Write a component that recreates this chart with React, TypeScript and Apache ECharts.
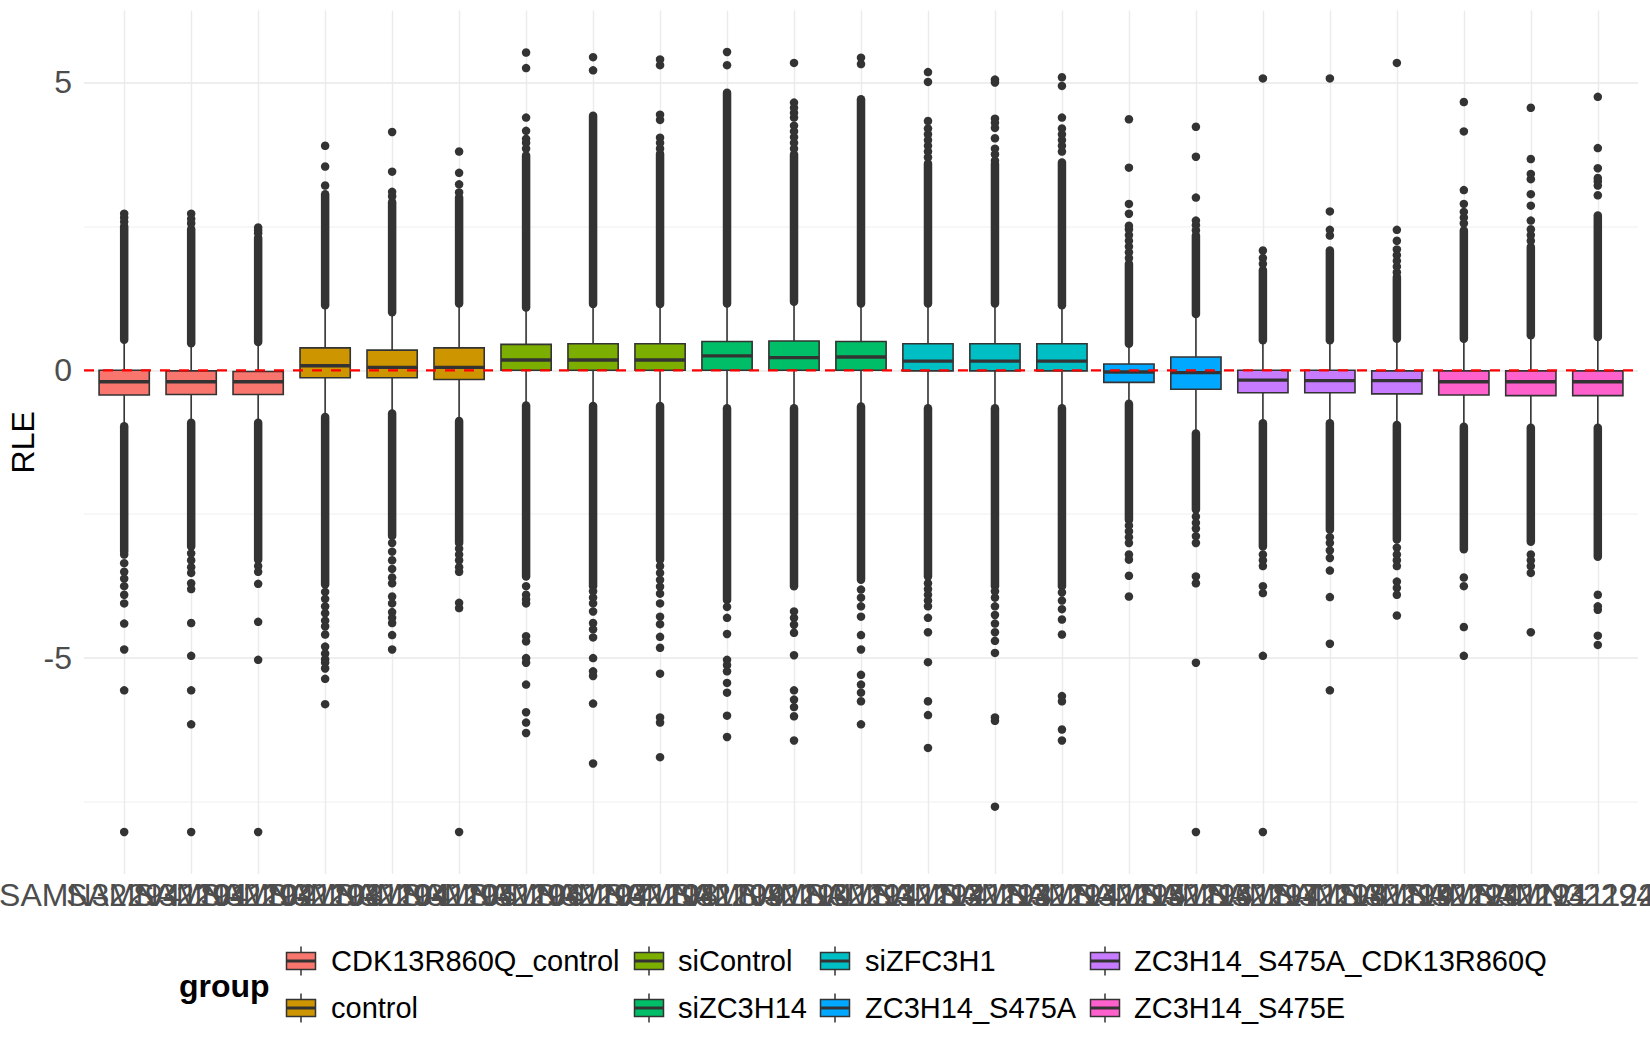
import React, { useEffect, useRef } from "react";
import * as echarts from "echarts";

// ---------- data ----------
const samples = [
  "SAMN322941101", "SAMN322941102", "SAMN322941103", "SAMN322941104", "SAMN322941105",
  "SAMN322941106", "SAMN322941107", "SAMN322941108", "SAMN322941109", "SAMN322941110",
  "SAMN322941111", "SAMN322941112", "SAMN322941113", "SAMN322941114", "SAMN322941115",
  "SAMN322941116", "SAMN322941117", "SAMN322941118", "SAMN322941119", "SAMN322941120",
  "SAMN322941121", "SAMN322941122", "SAMN322941123",
];

const groups = [
  "CDK13R860Q_control", "control", "siControl", "siZC3H14",
  "siZFC3H1", "ZC3H14_S475A", "ZC3H14_S475A_CDK13R860Q", "ZC3H14_S475E",
];

const groupColors = [
  "#F8766D", "#CD9600", "#7CAE00", "#00BE67", "#00BFC4", "#00A9FF", "#C77CFF", "#FF61CC",
];

const sampleGroup = [0, 0, 0, 1, 1, 1, 2, 2, 2, 3, 3, 3, 4, 4, 4, 5, 5, 6, 6, 6, 7, 7, 7];

const lowerWhisker = [-0.97, -0.91, -0.91, -0.81, -0.75, -0.88, -0.61, -0.62, -0.62, -0.66, -0.66, -0.63, -0.66, -0.66, -0.66, -0.58, -1.10, -0.92, -0.92, -0.95, -0.98, -1.0, -1.0];
const q1 = [-0.43, -0.42, -0.42, -0.13, -0.13, -0.16, 0.0, 0.0, 0.0, 0.0, 0.0, 0.0, -0.01, -0.01, -0.01, -0.21, -0.33, -0.39, -0.39, -0.41, -0.43, -0.44, -0.44];
const median = [-0.2, -0.2, -0.2, 0.08, 0.05, 0.05, 0.18, 0.18, 0.18, 0.25, 0.22, 0.23, 0.16, 0.16, 0.16, -0.03, -0.04, -0.17, -0.18, -0.18, -0.2, -0.2, -0.2];
const q3 = [0.0, -0.01, -0.02, 0.39, 0.35, 0.39, 0.45, 0.46, 0.46, 0.5, 0.51, 0.5, 0.46, 0.46, 0.46, 0.11, 0.23, 0.0, 0.0, -0.01, -0.01, -0.01, -0.01];
const upperWhisker = [0.53, 0.47, 0.49, 1.13, 1.01, 1.16, 1.09, 1.15, 1.15, 1.16, 1.19, 1.16, 1.16, 1.16, 1.13, 0.46, 0.98, 0.52, 0.52, 0.55, 0.55, 0.61, 0.58];

// extent of the densely packed (overlapping) outliers beyond each whisker
const upperDenseTop = [2.5, 2.45, 2.3, 3.06, 2.92, 3.0, 3.73, 4.42, 3.76, 4.82, 3.75, 4.71, 3.59, 3.59, 3.61, 1.85, 2.34, 1.74, 2.08, 1.62, 2.43, 2.14, 2.69];
const lowerDenseBottom = [-3.15, -3.06, -3.29, -3.72, -2.88, -3.0, -3.58, -3.75, -3.29, -3.99, -3.75, -3.64, -3.58, -3.75, -3.75, -2.6, -2.42, -3.06, -2.77, -2.94, -3.11, -2.98, -3.24];

// individually visible outliers
const upperOutliers = [
  [2.58, 2.65, 2.72],
  [2.55, 2.63, 2.72],
  [2.38, 2.43, 2.48],
  [3.21, 3.54, 3.9],
  [3.02, 3.1, 3.45, 4.14],
  [3.09, 3.23, 3.43, 3.8],
  [3.85, 3.95, 4.02, 4.16, 4.39, 5.25, 5.52],
  [5.21, 5.44],
  [3.85, 3.95, 4.04, 4.35, 4.44, 5.3, 5.4],
  [5.3, 5.53],
  [3.85, 3.95, 4.05, 4.15, 4.25, 4.39, 4.47, 4.56, 4.65, 5.34],
  [5.32, 5.43],
  [3.7, 3.8, 3.9, 4.0, 4.1, 4.2, 4.33, 5.01, 5.18],
  [3.64, 3.75, 3.85, 4.03, 4.21, 4.3, 4.37, 5.0, 5.05],
  [3.8, 3.9, 4.0, 4.1, 4.2, 4.39, 4.94, 5.09],
  [1.95, 2.05, 2.15, 2.25, 2.35, 2.45, 2.51, 2.72, 2.89, 3.52, 4.36],
  [2.43, 2.52, 2.6, 3.0, 3.71, 4.23],
  [1.85, 1.95, 2.08, 5.07],
  [2.34, 2.44, 2.76, 5.07],
  [1.7, 1.8, 1.9, 2.0, 2.1, 2.25, 2.44, 5.34],
  [2.55, 2.65, 2.75, 2.89, 3.13, 4.15, 4.66],
  [2.25, 2.35, 2.45, 2.6, 2.86, 3.06, 3.32, 3.41, 3.67, 4.56],
  [3.04, 3.21, 3.28, 3.34, 3.51, 3.86, 4.75],
];

const lowerOutliers = [
  [-3.2, -3.35, -3.5, -3.62, -3.75, -3.9, -4.05, -4.4, -4.85, -5.56, -8.02],
  [-3.18, -3.3, -3.42, -3.52, -3.7, -3.8, -4.39, -4.96, -5.56, -6.15, -8.02],
  [-3.4, -3.5, -3.71, -4.37, -5.03, -8.02],
  [-3.85, -3.97, -4.1, -4.22, -4.35, -4.45, -4.59, -4.8, -4.92, -5.02, -5.08, -5.18, -5.36, -5.8],
  [-3.0, -3.15, -3.3, -3.45, -3.6, -3.7, -3.93, -4.05, -4.2, -4.3, -4.39, -4.6, -4.85],
  [-3.1, -3.2, -3.3, -3.42, -3.5, -4.04, -4.13, -8.02],
  [-3.75, -3.9, -3.98, -4.05, -4.62, -4.71, -5.0, -5.08, -5.46, -5.94, -6.12, -6.3],
  [-3.84, -3.95, -4.05, -4.19, -4.39, -4.5, -4.64, -5.0, -5.23, -5.31, -5.79, -6.83],
  [-3.4, -3.52, -3.64, -3.76, -3.88, -4.05, -4.28, -4.41, -4.63, -4.82, -5.27, -6.03, -6.12, -6.72],
  [-4.11, -4.3, -4.58, -5.03, -5.12, -5.23, -5.43, -5.6, -6.0, -6.37],
  [-4.19, -4.3, -4.42, -4.56, -4.95, -5.56, -5.72, -5.85, -6.01, -6.43],
  [-3.81, -3.95, -4.1, -4.28, -4.6, -4.85, -5.29, -5.46, -5.6, -5.75, -6.15],
  [-3.7, -3.8, -3.9, -4.0, -4.1, -4.3, -4.55, -5.07, -5.75, -5.99, -6.56],
  [-3.84, -3.95, -4.1, -4.25, -4.4, -4.55, -4.7, -4.91, -6.03, -6.09, -7.58],
  [-3.86, -4.0, -4.15, -4.33, -4.59, -5.66, -5.75, -6.24, -6.43],
  [-2.7, -2.8, -2.9, -3.0, -3.2, -3.29, -3.57, -3.93],
  [-2.54, -2.65, -2.75, -2.88, -3.0, -3.58, -3.7, -5.08, -8.02],
  [-3.2, -3.3, -3.4, -3.75, -3.87, -4.96, -8.02],
  [-2.9, -3.0, -3.13, -3.26, -3.48, -3.94, -4.75, -5.56],
  [-3.08, -3.2, -3.3, -3.4, -3.67, -3.78, -3.9, -4.26],
  [-3.6, -3.75, -4.46, -4.96],
  [-3.2, -3.3, -3.4, -3.52, -4.55],
  [-3.9, -4.1, -4.16, -4.61, -4.77],
];

const yMajorTicks = [-5, 0, 5];
const yMinorTicks = [-7.5, -2.5, 2.5];
const yRange = [-8.75, 6.25];
const referenceLine = [0];

// ---------- style ----------
const FONT = "'Liberation Sans', Arial, Helvetica, sans-serif";
const EDGE = "#333333";
const POINT = 8.5;
const BOX_WIDTH = 0.75;
const X_PAD = 0.6;

function buildOption() {
  const xValues = samples.map((_, i) => i + 1);
  const xMin = 1 - X_PAD;
  const xMax = samples.length + X_PAD;

  const yGrid = [...yMajorTicks, ...yMinorTicks].sort((a, b) => a - b);
  const yGridColors = yGrid.map((v) => (yMajorTicks.includes(v) ? "#E9E9E9" : "#F4F4F4"));

  const boxData = samples.map((_, i) => [i + 1, lowerWhisker[i], q1[i], median[i], q3[i], upperWhisker[i]]);

  const denseData: number[][] = [];
  samples.forEach((_, i) => {
    denseData.push([i + 1, upperWhisker[i], upperDenseTop[i]]);
    denseData.push([i + 1, lowerWhisker[i], lowerDenseBottom[i]]);
  });

  const pointData: number[][] = [];
  samples.forEach((_, i) => {
    upperOutliers[i].forEach((v) => pointData.push([i + 1, v]));
    lowerOutliers[i].forEach((v) => pointData.push([i + 1, v]));
  });

  // legend (ggplot style, filled by column, 2 rows)
  const keyCenters = [301, 649, 835, 1105];
  const textLefts = [331, 678, 865, 1134];
  const rowCenters = [961, 1008];
  const legendEls: any[] = [
    {
      type: "text",
      style: {
        text: "group", x: 179, y: 986, fill: "#000000",
        fontSize: 32, fontWeight: "bold", fontFamily: FONT,
        textAlign: "left", textVerticalAlign: "middle", verticalAlign: "middle",
      },
    },
  ];
  groups.forEach((g, i) => {
    const col = Math.floor(i / 2);
    const row = i % 2;
    const cx = keyCenters[col];
    const cy = rowCenters[row];
    const bw = 29;
    const bh = 17;
    legendEls.push(
      { type: "line", shape: { x1: cx, y1: cy - bh / 2 - 6, x2: cx, y2: cy - bh / 2 }, style: { stroke: EDGE, lineWidth: 1.5 } },
      { type: "line", shape: { x1: cx, y1: cy + bh / 2, x2: cx, y2: cy + bh / 2 + 6 }, style: { stroke: EDGE, lineWidth: 1.5 } },
      { type: "rect", shape: { x: cx - bw / 2, y: cy - bh / 2, width: bw, height: bh }, style: { fill: groupColors[i], stroke: EDGE, lineWidth: 1.5 } },
      { type: "line", shape: { x1: cx - bw / 2, y1: cy, x2: cx + bw / 2, y2: cy }, style: { stroke: EDGE, lineWidth: 3 } },
      {
        type: "text",
        style: {
          text: g, x: textLefts[col], y: cy, fill: "#000000",
          fontSize: 29, fontFamily: FONT,
          textAlign: "left", textVerticalAlign: "middle", verticalAlign: "middle",
        },
      }
    );
  });

  return {
    animation: false,
    backgroundColor: "#FFFFFF",
    textStyle: { fontFamily: FONT },
    grid: { left: 84, right: 12, top: 10.5, bottom: 176, containLabel: false, outerBoundsMode: "none" },
    xAxis: {
      type: "value",
      min: xMin,
      max: xMax,
      axisLine: { show: false },
      axisTick: { show: false, customValues: xValues },
      axisLabel: { show: false, customValues: xValues },
      splitLine: { show: true, lineStyle: { color: "#EBEBEB", width: 1.4 } },
    },
    yAxis: {
      type: "value",
      min: yRange[0],
      max: yRange[1],
      name: "RLE",
      nameLocation: "middle",
      nameGap: 45,
      nameMoveOverlap: false,
      nameTextStyle: { fontSize: 32, color: "#000000", fontFamily: FONT },
      axisLine: { show: false },
      axisTick: { show: false, customValues: yGrid },
      axisLabel: {
        customValues: yMajorTicks,
        fontSize: 32,
        color: "#4D4D4D",
        fontFamily: FONT,
        margin: 12,
      },
      splitLine: { show: true, lineStyle: { color: yGridColors, width: 1.5 } },
    },
    graphic: { elements: legendEls },
    series: [
      {
        type: "custom",
        name: "dense outliers",
        data: denseData,
        encode: { x: 0, y: [1, 2] },
        z: 2,
        renderItem: (_params: any, api: any) => {
          const x = api.value(0);
          const a = api.coord([x, api.value(1)]);
          const b = api.coord([x, api.value(2)]);
          return {
            type: "line",
            shape: { x1: a[0], y1: a[1], x2: b[0], y2: b[1] },
            style: { stroke: EDGE, lineWidth: POINT, lineCap: "round" },
          };
        },
      },
      {
        type: "scatter",
        name: "outliers",
        data: pointData,
        symbol: "circle",
        symbolSize: POINT,
        itemStyle: { color: EDGE, opacity: 1 },
        z: 2,
      },
      {
        type: "custom",
        name: "boxes",
        data: boxData,
        encode: { x: 0, y: [1, 2, 3, 4, 5] },
        z: 3,
        renderItem: (params: any, api: any) => {
          const x = api.value(0);
          const lo = api.coord([x, api.value(1)]);
          const b1 = api.coord([x, api.value(2)]);
          const md = api.coord([x, api.value(3)]);
          const b3 = api.coord([x, api.value(4)]);
          const hi = api.coord([x, api.value(5)]);
          const w = api.size([BOX_WIDTH, 0])[0];
          const color = groupColors[sampleGroup[params.dataIndex]];
          return {
            type: "group",
            children: [
              { type: "line", shape: { x1: lo[0], y1: lo[1], x2: b1[0], y2: b1[1] }, style: { stroke: EDGE, lineWidth: 1.6 } },
              { type: "line", shape: { x1: b3[0], y1: b3[1], x2: hi[0], y2: hi[1] }, style: { stroke: EDGE, lineWidth: 1.6 } },
              {
                type: "rect",
                shape: { x: b3[0] - w / 2, y: b3[1], width: w, height: b1[1] - b3[1] },
                style: { fill: color, stroke: EDGE, lineWidth: 1.6 },
              },
              { type: "line", shape: { x1: md[0] - w / 2, y1: md[1], x2: md[0] + w / 2, y2: md[1] }, style: { stroke: EDGE, lineWidth: 3.4 } },
            ],
          };
        },
      },
      {
        type: "custom",
        name: "x labels",
        data: xValues.map((v) => [v, yRange[0]]),
        encode: { x: 0, y: 1 },
        clip: false,
        silent: true,
        z: 4,
        renderItem: (params: any, api: any) => {
          const p = api.coord([api.value(0), api.value(1)]);
          return {
            type: "text",
            x: p[0],
            y: p[1] + 5,
            style: {
              text: samples[params.dataIndex],
              fill: "#4D4D4D",
              fontSize: 32,
              fontFamily: FONT,
              textAlign: "center",
              textVerticalAlign: "top",
              verticalAlign: "top",
            },
          };
        },
      },
      {
        type: "custom",
        name: "reference",
        data: referenceLine.map((v) => [v]),
        encode: { y: 0 },
        z: 5,
        renderItem: (_params: any, api: any) => {
          const v = api.value(0);
          const a = api.coord([xMin, v]);
          const b = api.coord([xMax, v]);
          return {
            type: "line",
            shape: { x1: a[0], y1: a[1], x2: b[0], y2: b[1] },
            style: { stroke: "#FF0000", lineWidth: 2.2, lineDash: [10, 9] },
          };
        },
      },
    ],
  };
}

export default function App() {
  const ref = useRef<HTMLDivElement>(null);
  useEffect(() => {
    document.body.style.margin = "0";
    const chart = echarts.init(ref.current as HTMLDivElement, null, { renderer: "svg", width: 1650, height: 1050 });
    chart.setOption(buildOption() as any);
    return () => chart.dispose();
  }, []);
  return (
    <div
      ref={ref}
      style={{ position: "fixed", left: 0, top: 0, width: 1650, height: 1050, background: "#FFFFFF" }}
    />
  );
}
